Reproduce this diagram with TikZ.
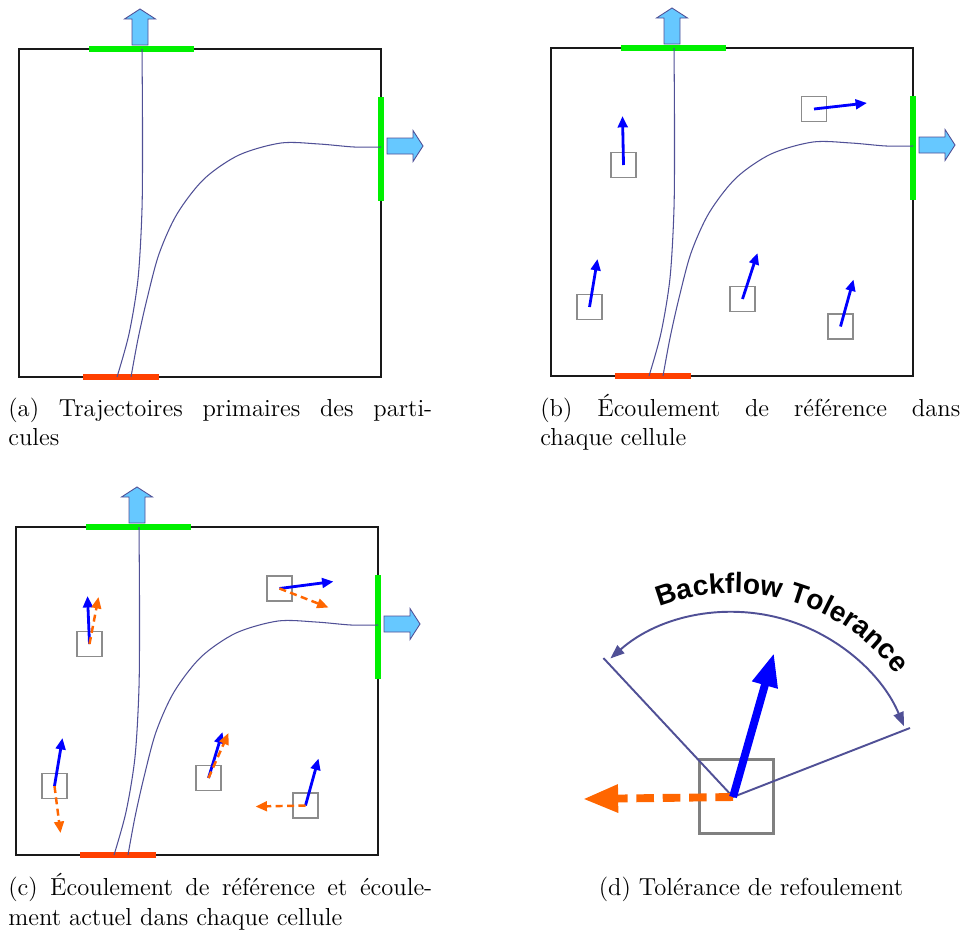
\documentclass[tikz,border=0pt]{standalone}
\usepackage{fontspec}
\newfontfamily\labelfont{Liberation Sans}
\usetikzlibrary{arrows.meta,decorations.text}
\definecolor{outgreen}{RGB}{0,240,0}
\definecolor{inred}{RGB}{255,64,0}
\definecolor{pathblue}{RGB}{80,80,150}
\definecolor{skyfill}{RGB}{102,200,255}
\definecolor{backorange}{RGB}{255,102,0}

\begin{document}
\begin{tikzpicture}[x=0.02cm, y=-0.02cm,
  wall/.style={draw=black!90, line width=1.4pt},
  outlet/.style={outgreen, line width=3.4pt},
  inlet/.style={inred, line width=3.4pt},
  traj/.style={pathblue, line width=0.6pt},
  exitarrow/.style={fill=skyfill, draw=pathblue, line width=0.5pt},
  cellbox/.style={draw=black!45, line width=1.1pt, minimum size=0.5cm, inner sep=0pt},
  refflow/.style={-{Triangle[length=6.5pt,width=5.5pt]}, blue, line width=1.6pt},
  curflow/.style={-{Triangle[length=6.5pt,width=5.5pt]}, backorange, line width=1.4pt, dash pattern=on 4pt off 2.5pt},
  tolline/.style={pathblue, line width=1.1pt},
  caption/.style={anchor=base west, inner sep=0pt, font=\fontsize{14}{16}\selectfont},
  room/.pic={
    \draw[wall] (0,0) rectangle (362,328);
    \draw[outlet] (70,0) -- (175,0);
    \draw[outlet] (362,48) -- (362,152);
    \draw[inlet] (64,328) -- (140,328);
    \draw[traj] plot[smooth] coordinates {(123,0) (123.5,80) (123,160) (119,230) (110,285) (98,328)};
    \draw[traj] plot[smooth] coordinates {(112,328) (119,290) (128,250) (140,205) (158,165) (185,130) (220,106) (262,94) (300,95) (335,98) (362,98)};
    \draw[exitarrow] (113,-4) -- (113,-30) -- (105.5,-30) -- (121,-40) -- (136.5,-30) -- (129,-30) -- (129,-4) -- cycle;
    \draw[exitarrow] (368,89) -- (394,89) -- (394,81.5) -- (404,97) -- (394,112.5) -- (394,105) -- (368,105) -- cycle;
  }
]
  \useasboundingbox (0,0) rectangle (962,933);

  % Rooms
  \pic (roomA) at (19,49) {room};
  \pic (roomB) at (551,48) {room};
  \pic (roomC) at (16,527) {room};

  % Cells with reference flow
  \node[cellbox] (b1) at (623.5,165) {};
  \node[cellbox] (b2) at (814,109) {};
  \node[cellbox] (b3) at (589.5,307) {};
  \node[cellbox] (b4) at (742.5,299) {};
  \node[cellbox] (b5) at (840.5,326.5) {};
  \draw[refflow] (b1.center) -- ++(-1,-49);
  \draw[refflow] (b2.center) -- ++(53,-6);
  \draw[refflow] (b3.center) -- ++(8,-48);
  \draw[refflow] (b4.center) -- ++(15,-46);
  \draw[refflow] (b5.center) -- ++(13,-47);

  % Cells with reference and actual flow
  \node[cellbox] (c1) at (89.5,644) {};
  \node[cellbox] (c2) at (279.5,588.5) {};
  \node[cellbox] (c3) at (54.5,786) {};
  \node[cellbox] (c4) at (208.5,778) {};
  \node[cellbox] (c5) at (305.5,805.5) {};
  \draw[refflow] (c1.center) -- ++(-2,-48);
  \draw[refflow] (c2.center) -- ++(54,-7);
  \draw[refflow] (c3.center) -- ++(8,-48);
  \draw[refflow] (c4.center) -- ++(14,-46);
  \draw[refflow] (c5.center) -- ++(13,-47);
  \draw[curflow] (c1.center) -- ++(9,-47);
  \draw[curflow] (c2.center) -- ++(49,19);
  \draw[curflow] (c3.center) -- ++(6,47);
  \draw[curflow] (c4.center) -- ++(20,-45);
  \draw[curflow] (c5.center) -- ++(-50,1);

  % Tolerance
  \node[cellbox, minimum size=1.48cm, line width=1.7pt, draw=black!50] (probe) at (736,796) {};
  \coordinate (pivot) at (733,797);
  \draw[tolline] (pivot) -- +(-133:190);
  \draw[tolline] (pivot) -- +(-21.3:190);
  \draw[tolline, {Triangle[length=8pt,width=6pt]}-{Triangle[length=8pt,width=6pt]}]
    (pivot) ++(-131.5:185) arc[start angle=-131.5, end angle=-22.5, radius=185];
  \path[decorate, decoration={text along path, text align=center,
    text={|\labelfont\bfseries\fontsize{16}{18}\selectfont|Backflow Tolerance}}]
    (pivot) ++(-122:204) arc[start angle=-122, end angle=-26, radius=204];
  \draw[-{Triangle[length=20pt,width=15pt]}, backorange, line width=4.5pt, dash pattern=on 10pt off 5pt] (pivot) -- (583,799);
  \draw[-{Triangle[length=19pt,width=14pt]}, blue, line width=4.5pt] (pivot) -- (774,653);

  % Captions
  \node[caption] (capA1) at (8,416) {\makebox[8.48cm][s]{(a) Trajectoires primaires des parti-}};
  \node[caption] (capA2) at (8,445) {cules};
  \node[caption] (capB1) at (540,416) {\makebox[8.4cm][s]{(b) Écoulement de référence dans}};
  \node[caption] (capB2) at (540,445) {chaque cellule};
  \node[caption] (capC1) at (8,895) {\makebox[8.48cm][s]{(c) Écoulement de référence et écoule-}};
  \node[caption] (capC2) at (8,925) {ment actuel dans chaque cellule};
  \node[caption, anchor=base] (capD) at (751,895) {(d) Tolérance de refoulement};
\end{tikzpicture}
\end{document}
